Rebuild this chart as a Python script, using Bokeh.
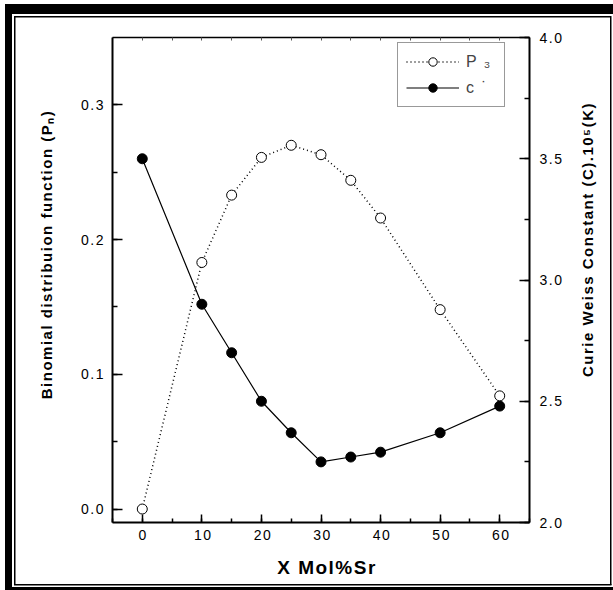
import math, json
from bokeh.plotting import figure
from bokeh.models import (Range1d, LinearAxis, SingleIntervalTicker, FixedTicker, PrintfTickFormatter,
                          CustomJSTickFormatter, Legend, LegendItem)
from bokeh.embed import file_html
from bokeh.resources import INLINE

# ---- data ----
x_mol = [0, 10, 15, 20, 25, 30, 35, 40, 50, 60]
p3_vals = [0.0, 0.183, 0.233, 0.261, 0.270, 0.263, 0.244, 0.216, 0.148, 0.084]
c_vals = [3.50, 2.90, 2.70, 2.50, 2.37, 2.25, 2.27, 2.29, 2.37, 2.48]
legend_labels = ["P \u2083", "c \u02d9"]
x_title = "X Mol%Sr"
left_title = "Binomial distribuion function (P\u2099)"
right_title = "Curie Weiss Constant (C).10\u2075(K)"

FONT = "Liberation Sans"

# page frame drawn as CSS background blocks (thick outer band + thin inner line)
frame_blocks = [  # (left, top, width, height) in px
    (5, 4, 608, 10), (5, 4, 7, 586), (5, 587, 608, 3),
    (14, 16, 597, 1.5), (14, 16, 1.5, 569), (610, 16, 1.5, 569), (14, 583.5, 597.5, 1.5),
]
page_styles = {
    "background-color": "white",
    "background-image": ", ".join(["linear-gradient(#000, #000)"] * len(frame_blocks)),
    "background-position": ", ".join(f"{l}px {t}px" for l, t, w, h in frame_blocks),
    "background-size": ", ".join(f"{w}px {h}px" for l, t, w, h in frame_blocks),
    "background-repeat": "no-repeat",
    "letter-spacing": "1.5px",
}

p = figure(width=613, height=590, x_range=Range1d(-5, 65), y_range=Range1d(-0.01, 0.35),
           output_backend="svg", toolbar_location=None,
           min_border_left=112, min_border_right=84, min_border_top=37, min_border_bottom=68,
           styles=page_styles)
p.extra_y_ranges = {"c": Range1d(2.0, 4.0)}
p.grid.visible = False
p.outline_line_color = None
p.background_fill_color = "white"
p.border_fill_color = None

def style_axis(ax, tick_in, minor_in, standoff):
    ax.axis_line_width = 2
    ax.axis_line_color = "black"
    ax.major_tick_in = tick_in
    ax.major_tick_out = 0
    ax.minor_tick_in = minor_in
    ax.minor_tick_out = 0
    ax.major_tick_line_width = 1.5
    ax.minor_tick_line_width = 1.5
    ax.major_label_text_font = FONT
    ax.major_label_text_font_size = "14px"
    ax.major_label_text_color = "black"
    ax.major_label_standoff = standoff

def style_title(ax, text, size, standoff):
    ax.axis_label = text
    ax.axis_label_text_font = FONT
    ax.axis_label_text_font_style = "bold"
    ax.axis_label_text_font_size = size
    ax.axis_label_text_color = "black"
    ax.axis_label_standoff = standoff

# bottom axis
xa = p.xaxis[0]
xa.ticker = SingleIntervalTicker(interval=10, num_minor_ticks=2)
style_axis(xa, 8, 4, 7)
style_title(xa, x_title, "19px", 14)

# left axis
ya = p.yaxis[0]
ya.ticker = SingleIntervalTicker(interval=0.1, num_minor_ticks=2)
ya.formatter = PrintfTickFormatter(format="%.1f")
style_axis(ya, 10, 5, 12)
style_title(ya, left_title, "15px", 23)

# right axis
ra = LinearAxis(y_range_name="c", ticker=SingleIntervalTicker(interval=0.5, num_minor_ticks=2),
                formatter=PrintfTickFormatter(format="%.1f"))
style_axis(ra, 10, 5, 10)
p.add_layout(ra, "right")

# right title: reads bottom-to-top, drawn as the single label of a bare extra axis
title_start = 2.6  # where the title text begins, in the right-axis units
rt = LinearAxis(y_range_name="c", ticker=FixedTicker(ticks=[title_start], minor_ticks=[]),
                formatter=CustomJSTickFormatter(code="return " + json.dumps(right_title)))
rt.axis_line_color = None
rt.major_tick_line_color = None
rt.minor_tick_line_color = None
rt.major_label_orientation = math.pi / 2
rt.major_label_standoff = 20
rt.major_label_text_font = FONT
rt.major_label_text_font_style = "bold"
rt.major_label_text_font_size = "15px"
rt.major_label_text_color = "black"
p.add_layout(rt, "right")

# top axis (ticks only)
ta = LinearAxis(ticker=SingleIntervalTicker(interval=5, num_minor_ticks=0),
                formatter=CustomJSTickFormatter(code="return ''"))
ta.axis_line_width = 1.5
ta.major_tick_in = 3
ta.major_tick_out = 0
ta.major_tick_line_color = "#555555"
ta.minor_tick_line_color = None
p.add_layout(ta, "above")

# data
r_c_line = p.line(x_mol, c_vals, y_range_name="c", line_color="black", line_width=1.2)
r_p3_line = p.line(x_mol, p3_vals, line_color="black", line_width=1.5, line_dash="1 3")
r_c_pts = p.scatter(x_mol, c_vals, y_range_name="c", marker="circle", size=10,
                    fill_color="black", line_color="black")
r_p3_pts = p.scatter(x_mol, p3_vals, marker="circle", size=10, fill_color="white",
                     line_color="black", line_width=1)

legend = Legend(items=[LegendItem(label=legend_labels[0], renderers=[r_p3_line, r_p3_pts]),
                       LegendItem(label=legend_labels[1], renderers=[r_c_line, r_c_pts])],
                location=(285, 415), margin=0, padding=8, spacing=5,
                glyph_width=53, glyph_height=21, label_height=21, label_standoff=7,
                label_width=30,
                label_text_font=FONT, label_text_font_size="16px",
                border_line_color="#333333", border_line_width=1,
                background_fill_color="white", background_fill_alpha=1)
p.add_layout(legend)

open("out.html", "w").write(file_html(p, INLINE))
